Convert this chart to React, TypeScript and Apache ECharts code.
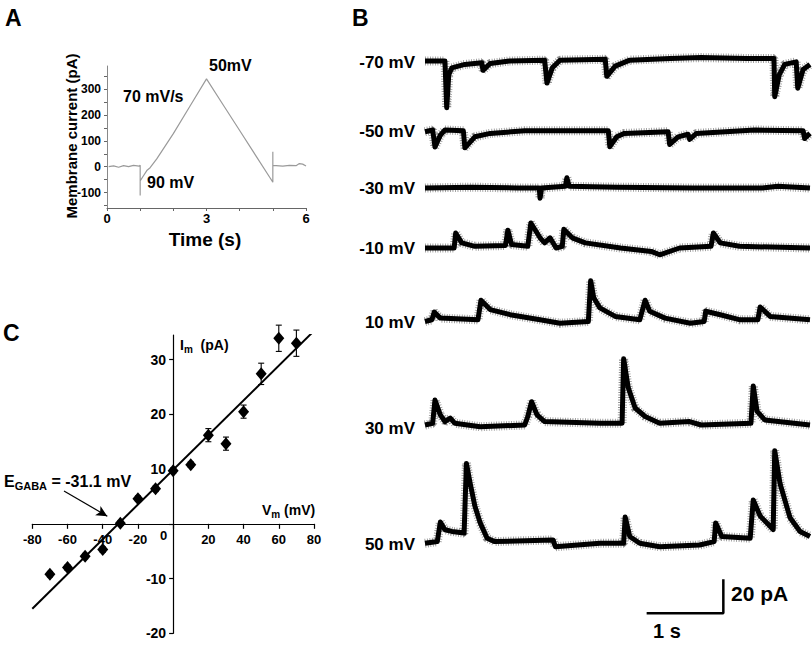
import React, { useEffect, useRef } from "react";
import * as echarts from "echarts";

// ---------- Panel A: ramp protocol response (time s, current pA)
const rampTrace: number[][] = [
  [0.05, 0], [0.2, 3], [0.35, -2], [0.5, 4], [0.65, 0], [0.8, 5], [0.97, 2],
  [1.0, 6], [1.0, -112], [1.0, -55], [1.1, -35], [1.2, -15], [1.3, -4], [1.5, 30],
  [2.0, 128], [2.5, 234], [3.0, 340], [3.5, 240], [4.0, 140], [4.5, 40],
  [4.9, -40], [5.0, -60], [5.0, 58], [5.0, 5], [5.3, 2], [5.5, 5], [5.7, 4],
  [5.8, 12], [5.9, 10], [6.0, 3],
];
const rampYLabels = [-100, 0, 100, 200, 300];
const rampYTicks = [-150, -100, -50, 0, 50, 100, 150, 200, 250, 300, 350];

// ---------- Panel B: spontaneous currents (time s, current pA rel. baseline)
const traceLabels = ["-70 mV", "-50 mV", "-30 mV", "-10 mV", "10 mV", "30 mV", "50 mV"];
const tr70: number[][] = [
  [0, 0], [0.26, 0], [0.283, -27.5], [0.31, -8], [0.35, -4], [0.52, -2], [0.74, -1],
  [0.756, -5.5], [0.85, -1.5], [1.1, 0], [1.56, 0.5], [1.59, -13], [1.66, -4],
  [1.76, 0.5], [2.35, 1], [2.37, -9], [2.48, -3], [2.67, 0.5], [3.2, 1.5], [3.6, 2],
  [4.2, 1.5], [4.55, 1.5], [4.56, -21], [4.62, -8], [4.69, -2], [4.84, -0.5],
  [4.86, -16], [4.93, -5], [5.02, -2],
];
const tr50n: number[][] = [
  [0, 0], [0.1, 1], [0.13, -9], [0.2, -2], [0.26, 1], [0.5, 0.5], [0.52, -9.5],
  [0.65, -3], [0.85, -1], [1.3, 0.5], [2.39, 0.5], [2.41, -8.8], [2.5, -3],
  [2.6, -1], [3.17, 0], [3.19, -7.5], [3.3, -3], [3.43, -1.5], [3.45, -4.5],
  [3.54, -1], [4.3, 1], [4.93, 0.5], [4.95, -4], [5.02, -1],
];
const tr30n: number[][] = [
  [0, 0], [0.6, 0.5], [1.2, 0], [1.49, 0], [1.5, -6], [1.52, 0], [1.83, 1],
  [1.85, 6], [1.88, 1], [2.5, 0.5], [3.5, 0], [4.4, 0], [4.6, 1], [5.02, 0],
];
const tr10n: number[][] = [
  [0, 0], [0.38, 0], [0.4, 8.8], [0.48, 3], [0.65, 1], [1.05, 1.5], [1.08, 10.5],
  [1.13, 2], [1.34, 1], [1.38, 14.7], [1.5, 6], [1.56, 3], [1.63, 6], [1.71, 0],
  [1.79, 1], [1.81, 11], [1.92, 6], [2.09, 3], [2.55, 0], [2.95, -2], [3.06, -4],
  [3.32, 0], [3.73, 1], [3.76, 8.8], [3.85, 3], [4.1, 1], [5.02, 0],
];
const tr10p: number[][] = [
  [0, 0], [0.09, 1], [0.12, 5.5], [0.2, 2], [0.69, 1], [0.73, 12.5], [0.85, 7],
  [1.11, 4], [1.5, 1], [1.76, -1], [2.13, 0], [2.16, 24], [2.2, 14], [2.28, 8],
  [2.48, 3], [2.8, 1], [2.87, 12.5], [2.93, 6], [3.13, 2], [3.46, -1], [3.64, 0],
  [3.66, 6], [3.85, 4], [4.11, 1], [4.34, 1], [4.37, 8.5], [4.5, 3], [5.02, 1],
];
const tr30p: number[][] = [
  [0, 0], [0.1, 1], [0.13, 14.7], [0.2, 6], [0.26, 2], [0.33, 4], [0.39, 1],
  [0.72, -1], [1.3, 0], [1.34, 5], [1.39, 13.7], [1.46, 6], [1.56, 2], [2.28, 1],
  [2.57, 1], [2.59, 39], [2.65, 22], [2.74, 10], [2.87, 5], [3.06, 1], [3.45, 2],
  [3.6, 0], [4.25, 1], [4.28, 23], [4.33, 8], [4.43, 3], [5.02, 0],
];
const tr50p: number[][] = [
  [0, 0], [0.16, 1], [0.2, 12.5], [0.26, 8], [0.35, 7], [0.51, 6], [0.54, 47],
  [0.59, 35], [0.65, 22], [0.72, 12], [0.81, 3], [0.91, 1], [1.67, 2], [1.7, -2],
  [2.28, 0], [2.59, 0], [2.61, 15.5], [2.67, 4], [2.8, 0], [3.06, -2], [3.58, -1],
  [3.77, 1], [3.79, 12], [3.87, 4], [4.24, 3], [4.28, 25.5], [4.37, 16], [4.5, 10],
  [4.54, 8], [4.56, 54.5], [4.63, 35], [4.76, 15], [4.89, 7], [5.02, 4],
];
const traces = [tr70, tr50n, tr30n, tr10n, tr10p, tr30p, tr50p];
// scale bar: 1 s horizontal, 20 pA vertical (drawn in the 50 mV trace's axes)
const scaleBar: number[][] = [[2.89, -41.2], [3.89, -41.2], [3.89, -21.2]];

// ---------- Panel C: I-V relation
const ivVm = [-70, -60, -50, -40, -30, -20, -10, 0, 10, 20, 30, 40, 50, 60, 70];
const ivIm = [-9.2, -8.0, -5.9, -4.7, 0.1, 4.6, 6.4, 9.7, 10.8, 16.2, 14.65, 20.5, 27.4, 33.9, 33.0];
const ivErr = [0.5, 0.5, 0.5, 0.5, 0.4, 0.5, 0.5, 0.5, 0.5, 1.2, 1.2, 1.2, 1.95, 2.4, 2.4];
const fitLine: number[][] = [[-80, -15.5], [78.6, 34.8]];
const arrowFrom = [-62.0, 6.0];
const arrowTo = [-37.4, 1.4];
const ivYLabels = [-20, -10, 10, 20, 30];
const ivYTicks = [-20, -10, 0, 10, 20, 30];

const FONT = "'Liberation Sans', Arial, sans-serif";

export default function App() {
  const ref = useRef<HTMLDivElement>(null);
  useEffect(() => {
    if (!ref.current) return;
    const chart = echarts.init(ref.current, undefined, { renderer: "svg" });

    // trace layout: baseline pixel y and visible range (pA)
    const baselines = [61, 131.7, 188, 248, 321.5, 425, 543.3];
    const ranges = [[-30, 20], [-30, 20], [-30, 20], [-20, 30], [-20, 40], [-20, 50], [-45, 60]];
    const pxPerPA = 1.7;

    // C panel geometry
    const cL = 32.3, cW = 281.7, cT = 335, cH = 298.3;
    const cZeroX = cL + cW / 2;
    const cZeroY = cT + cH * (34.5 / 54.5);

    const hidden = { show: false };
    const grids: any[] = [
      { left: 107, top: 66, width: 199, height: 142 },
      { left: cL, top: cT, width: cW, height: cH },
      { left: cL, top: cT, width: cW, height: cZeroY - cT },
      { left: cZeroX, top: cT, width: cL + cW - cZeroX, height: cH },
    ];
    const boldLbl = (size: number, margin: number) => ({
      color: "#000", fontWeight: "bold", fontSize: size, fontFamily: FONT, margin,
    });
    const xAxes: any[] = [
      {
        type: "value", gridIndex: 0, min: 0, max: 6, interval: 1,
        axisLine: { onZero: false, lineStyle: { color: "#666", width: 1 } },
        axisTick: { length: 3, lineStyle: { color: "#666" } },
        splitLine: hidden,
        axisLabel: { ...boldLbl(13, 4), formatter: (v: number) => (v % 3 === 0 ? String(v) : "") },
      },
      { type: "value", gridIndex: 1, min: -80, max: 80, show: false },
      {
        type: "value", gridIndex: 2, min: -80, max: 80, interval: 20, position: "bottom",
        axisLine: { onZero: false, lineStyle: { color: "#000", width: 1.2 } },
        axisTick: { length: 5, lineStyle: { color: "#000", width: 1.2 } },
        splitLine: hidden,
        axisLabel: { ...boldLbl(13, 9), formatter: (v: number) => (v === 0 ? "" : String(v)) },
      },
      { type: "value", gridIndex: 3, min: 0, max: 80, show: false },
    ];
    const yAxes: any[] = [
      {
        type: "value", gridIndex: 0, min: -160, max: 390,
        axisLine: { show: true, onZero: false, lineStyle: { color: "#888", width: 1 } },
        axisTick: { show: true, length: 3, customValues: rampYTicks, lineStyle: { color: "#666" } },
        splitLine: hidden,
        axisLabel: { ...boldLbl(12, 6), customValues: rampYLabels },
      },
      { type: "value", gridIndex: 1, min: -20, max: 34.5, show: false },
      { type: "value", gridIndex: 2, min: 0, max: 34.5, show: false },
      {
        type: "value", gridIndex: 3, min: -20, max: 34.5, position: "left",
        axisLine: { show: true, onZero: false, lineStyle: { color: "#000", width: 1.2 } },
        axisTick: { show: true, length: 4, customValues: ivYTicks, lineStyle: { color: "#000", width: 1.2 } },
        splitLine: hidden,
        axisLabel: { ...boldLbl(14, 7), customValues: ivYLabels },
      },
    ];

    const series: any[] = [
      {
        type: "line", xAxisIndex: 0, yAxisIndex: 0, data: rampTrace, showSymbol: false,
        lineStyle: { color: "#9a9a9a", width: 1.2 }, silent: true,
      },
      {
        type: "line", xAxisIndex: 1, yAxisIndex: 1, data: fitLine, showSymbol: false,
        lineStyle: { color: "#000", width: 2 }, silent: true,
        markLine: {
          silent: true, symbol: ["none", "arrow"], symbolSize: [8, 11],
          label: { show: false },
          lineStyle: { color: "#000", width: 1.2, type: "solid" },
          data: [[{ coord: arrowFrom }, { coord: arrowTo }]],
        },
      },
      {
        type: "custom", xAxisIndex: 1, yAxisIndex: 1,
        data: ivVm.map((v, i) => [v, ivIm[i], ivErr[i]]),
        encode: { x: 0, y: 1 },
        renderItem: (params: any, api: any) => {
          const x = api.value(0), y = api.value(1), e = api.value(2);
          const t = api.coord([x, y + e]);
          const b = api.coord([x, y - e]);
          const w = 3;
          const st = { stroke: "#000", lineWidth: 1.1 };
          return {
            type: "group",
            children: [
              { type: "line", shape: { x1: t[0], y1: t[1], x2: b[0], y2: b[1] }, style: st },
              { type: "line", shape: { x1: t[0] - w, y1: t[1], x2: t[0] + w, y2: t[1] }, style: st },
              { type: "line", shape: { x1: b[0] - w, y1: b[1], x2: b[0] + w, y2: b[1] }, style: st },
            ],
          };
        },
        silent: true,
      },
      {
        type: "scatter", xAxisIndex: 1, yAxisIndex: 1,
        data: ivVm.map((v, i) => [v, ivIm[i]]),
        symbol: "diamond", symbolSize: [11, 13],
        itemStyle: { color: "#000", opacity: 1 }, silent: true, z: 5,
      },
    ];

    traces.forEach((tr, i) => {
      const [lo, hi] = ranges[i];
      grids.push({
        left: 425, width: 385,
        top: baselines[i] - hi * pxPerPA, height: (hi - lo) * pxPerPA,
      });
      const gi = i + 4;
      xAxes.push({ type: "value", gridIndex: gi, min: 0, max: 5.02, show: false });
      yAxes.push({ type: "value", gridIndex: gi, min: lo, max: hi, show: false });
      series.push({
        type: "line", xAxisIndex: gi, yAxisIndex: gi, data: tr, showSymbol: false,
        lineStyle: { color: "#333", width: 9, type: [0.8, 1.7], opacity: 0.55 }, silent: true, z: 2,
      });
      series.push({
        type: "line", xAxisIndex: gi, yAxisIndex: gi, data: tr, showSymbol: false,
        lineStyle: { color: "#000", width: 5, join: "round" }, silent: true, z: 3,
      });
    });
    series.push({
      type: "line", xAxisIndex: 10, yAxisIndex: 10, data: scaleBar, showSymbol: false,
      lineStyle: { color: "#000", width: 2.5 }, silent: true,
    });

    const txt = (x: number, y: number, text: string, size: number, extra: any = {}) => ({
      type: "text", x, y,
      style: {
        text, fill: "#000", font: `bold ${size}px ${FONT}`,
        textAlign: extra.align || "left", textVerticalAlign: "middle",
      },
      rotation: extra.rotation || 0,
    });
    const sub = (x: number, y: number, text: string, big: number, small: number) => ({
      type: "text", x, y,
      style: {
        text,
        rich: {
          b: { font: `bold ${big}px ${FONT}`, fill: "#000" },
          s: { font: `bold ${small}px ${FONT}`, fill: "#000", padding: [Math.round(big * 0.55), 0, 0, 0] },
        },
        textVerticalAlign: "middle",
      },
    });

    const graphic: any[] = [
      txt(5, 18, "A", 23),
      txt(352, 18, "B", 23),
      txt(3, 333, "C", 23),
      txt(209, 65, "50mV", 16),
      txt(123, 96, "70 mV/s", 16),
      txt(147, 182, "90 mV", 16),
      txt(205, 239, "Time (s)", 19, { align: "center" }),
      txt(71, 136, "Membrane current (pA)", 15, { align: "center", rotation: Math.PI / 2 }),
      txt(160, 535, "0", 13),
      txt(731, 593, "20 pA", 21),
      txt(653, 631, "1 s", 20),
      sub(180, 345, "{b|I}{s|m}{b|  (pA)}", 14, 10),
      sub(262, 510, "{b|V}{s|m}{b| (mV)}", 14, 10),
      sub(4, 481, "{b|E}{s|GABA}{b| = -31.1 mV}", 16, 11),
    ];
    const labelYs = [62, 131, 188, 248, 322, 428, 544];
    traceLabels.forEach((l, i) => graphic.push(txt(415, labelYs[i], l, 17, { align: "right" })));

    chart.setOption({
      animation: false,
      backgroundColor: "#fff",
      grid: grids,
      xAxis: xAxes,
      yAxis: yAxes,
      series,
      graphic,
    });
    return () => chart.dispose();
  }, []);
  return (
    <div
      ref={ref}
      style={{ position: "fixed", left: 0, top: 0, width: 812, height: 646, background: "#fff" }}
    />
  );
}
